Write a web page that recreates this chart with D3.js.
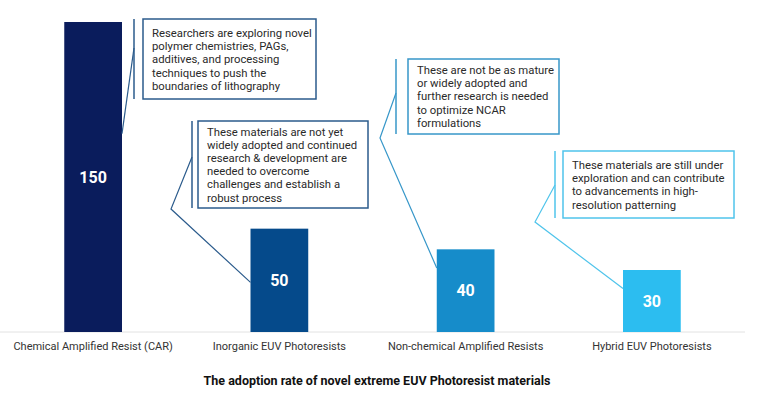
<!DOCTYPE html>
<html>
<head>
<meta charset="utf-8">
<script src="https://cdn.jsdelivr.net/npm/d3@7"></script>
<style>
  body { margin: 0; background: #fff; }
  svg text { font-family: Roboto, "Noto Sans", sans-serif; }
</style>
</head>
<body>
<svg id="chart" width="768" height="395"></svg>
<script>
// Data
var categories = ['Chemical Amplified Resist (CAR)', 'Inorganic EUV Photoresists',
    'Non-chemical Amplified Resists', 'Hybrid EUV Photoresists'];
var values = [150, 50, 40, 30];
var barColors = ['#0a1c5c', '#054a8b', '#168cca', '#2cbdf0'];
var title = 'The adoption rate of novel extreme EUV Photoresist materials';

// Callout notes, one per bar
var notes = [
    ['Researchers are exploring novel', 'polymer chemistries, PAGs,', 'additives, and processing',
        'techniques to push the', 'boundaries of lithography'],
    ['These materials are not yet', 'widely adopted and continued', 'research & development are',
        'needed to overcome', 'challenges and establish a', 'robust process'],
    ['These are not be as mature', 'or widely adopted and', 'further research is needed',
        'to optimize NCAR', 'formulations'],
    ['These materials are still under', 'exploration and can contribute', 'to advancements in high-',
        'resolution patterning']
];
// Where each leader touches its bar (value along the bar, and which side)
var noteAnchorValue = [96, 24, 31, 21];
var noteAnchorSide = ['right', 'left', 'left', 'left'];
var noteColors = ['#2b5b8c', '#2b5b8c', '#3797c9', '#4fc4eb'];

// Layout of the callout boxes
var boxLayout = [
    {x: 143, y: 19, w: 173, h: 80, pad: 18, lineX: 134, hookY: 48, kink: null},
    {x: 198, y: 121, w: 170, h: 87, pad: 14.5, lineX: 192, hookY: 157, kink: [171, 209]},
    {x: 408, y: 59, w: 151, h: 75, pad: 15, lineX: 396, hookY: 93, kink: [380, 138]},
    {x: 563, y: 151, w: 171, h: 67, pad: 18, lineX: 555, hookY: 185, kink: [535, 222]}
];

var svg = d3.select('#chart');
var baseY = 332, topY = 22;

var x = d3.scaleBand()
    .domain(categories)
    .range([0, 745])
    .paddingInner(0.69)
    .paddingOuter(0.345);

var y = d3.scaleLinear()
    .domain([0, 150])
    .range([baseY, topY]);

// Baseline
svg.append('line')
    .attr('x1', 0).attr('x2', 745)
    .attr('y1', baseY).attr('y2', baseY)
    .attr('stroke', '#e2e2e2')
    .attr('stroke-width', 1);

// Bars
var bars = svg.append('g').attr('class', 'bars');
bars.selectAll('rect')
    .data(values)
    .enter()
    .append('rect')
    .attr('x', function (d, i) { return x(categories[i]); })
    .attr('y', function (d) { return y(d); })
    .attr('width', x.bandwidth())
    .attr('height', function (d) { return y(0) - y(d); })
    .attr('fill', function (d, i) { return barColors[i]; });

// Value labels, centred in each bar
bars.selectAll('text')
    .data(values)
    .enter()
    .append('text')
    .attr('x', function (d, i) { return x(categories[i]) + x.bandwidth() / 2; })
    .attr('y', function (d) { return (y(d) + y(0)) / 2; })
    .attr('dy', '0.36em')
    .attr('text-anchor', 'middle')
    .attr('fill', '#fff')
    .attr('font-size', '16px')
    .attr('font-weight', 'bold')
    .text(function (d) { return d; });

// Category labels
svg.append('g').selectAll('text')
    .data(categories)
    .enter()
    .append('text')
    .attr('x', function (d) { return x(d) + x.bandwidth() / 2; })
    .attr('y', 350)
    .attr('text-anchor', 'middle')
    .attr('fill', '#333')
    .attr('font-size', '11px')
    .text(function (d) { return d; });

// Title
svg.append('text')
    .attr('x', 377)
    .attr('y', 385)
    .attr('text-anchor', 'middle')
    .attr('fill', '#111')
    .attr('font-size', '12.5px')
    .attr('font-weight', 'bold')
    .text(title);

// Callouts
var callouts = svg.append('g').attr('class', 'callouts');
notes.forEach(function (lines, i) {
    var b = boxLayout[i];
    var col = noteColors[i];
    var g = callouts.append('g');

    var ax = noteAnchorSide[i] === 'right' ? x(categories[i]) + x.bandwidth() : x(categories[i]);
    var ay = y(noteAnchorValue[i]);
    var pts = [[b.lineX, b.hookY]];
    if (b.kink) { pts.push(b.kink); }
    pts.push([ax, ay]);

    g.append('path')
        .attr('d', d3.line()(pts))
        .attr('fill', 'none')
        .attr('stroke', col)
        .attr('stroke-width', 1.2);

    g.append('line')
        .attr('x1', b.lineX).attr('x2', b.lineX)
        .attr('y1', b.y).attr('y2', b.y + b.h)
        .attr('stroke', col)
        .attr('stroke-width', 1.5);

    g.append('rect')
        .attr('x', b.x).attr('y', b.y)
        .attr('width', b.w).attr('height', b.h)
        .attr('fill', '#fff')
        .attr('stroke', col)
        .attr('stroke-width', 1.5);

    g.append('g').selectAll('text')
        .data(lines)
        .enter()
        .append('text')
        .attr('x', b.x + 9)
        .attr('y', function (d, j) { return b.y + b.pad + j * 13.2; })
        .attr('fill', '#2a2a2a')
        .attr('font-size', '11.3px')
        .text(function (d) { return d; });
});
</script>
</body>
</html>
